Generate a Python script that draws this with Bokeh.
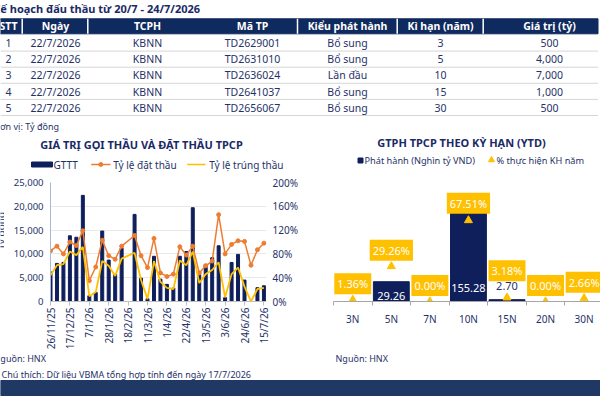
import math
from bokeh.plotting import figure
from bokeh.layouts import column, row
from bokeh.models import Range1d, LinearAxis, FixedTicker, NumeralTickFormatter
from bokeh.core.properties import value
from bokeh.embed import file_html
from bokeh.resources import INLINE

FONT = "Noto Sans"
NAVY = "#1B2A66"
TXT = "#1F3268"
HEAD = "#0F2A5E"
BAR = "#0F1F5C"
ORANGE = "#ED7D31"
YELLOW = "#FFC000"
BAND = "#1F3864"

# ---------------- table data ----------------
table_title = "Kế hoạch đấu thầu từ 20/7 - 24/7/2026"
headers = ["STT", "Ngày", "TCPH", "Mã TP", "Kiểu phát hành", "Kì hạn (năm)", "Giá trị (tỷ)"]
stt = ["1", "2", "3", "4", "5"]
ngay = ["22/7/2026", "22/7/2026", "22/7/2026", "22/7/2026", "22/7/2026"]
tcph = ["KBNN", "KBNN", "KBNN", "KBNN", "KBNN"]
ma_tp = ["TD2629001", "TD2631010", "TD2636024", "TD2641037", "TD2656067"]
kieu = ["Bổ sung", "Bổ sung", "Lần đầu", "Bổ sung", "Bổ sung"]
ki_han = [3, 5, 10, 15, 30]
gia_tri = [500, 4000, 7000, 1000, 500]

# ---------------- left chart data ----------------
dates = ["26/11/25", "3/12/25", "10/12/25", "17/12/25", "24/12/25", "31/12/25",
         "7/1/26", "14/1/26", "21/1/26", "28/1/26", "4/2/26", "11/2/26",
         "18/2/26", "25/2/26", "4/3/26", "11/3/26", "18/3/26", "25/3/26",
         "1/4/26", "8/4/26", "15/4/26", "22/4/26", "29/4/26", "6/5/26",
         "13/5/26", "20/5/26", "27/5/26", "3/6/26", "10/6/26", "17/6/26",
         "24/6/26", "1/7/26", "8/7/26", "15/7/26"]
gttt = [6200, 8000, 8200, 13800, 13500, 22300, 1200, 1900, 14800, 8700, 5700, 11200,
        None, 18300, 4900, 600, 9500, 4700, 3600, 2800, 9500, 10500, 19700, 5700,
        7800, 9200, 11700, 800, 8200, 9900, 4500, 0, 2900, 3300]
ty_le_dat_thau = [85, 93, 80, 100, 94, 119, 35, 58, 103, 77, 71, 93,
                  None, 111, 77, 57, 106, 48, 42, 46, 92, 78, 93, 48,
                  60, 68, 146, 80, 96, 102, 101, 61, 87, 98]
ty_le_trung_thau = [44, 61, 63, 84, 78, 92, 9, 16, 68, 60, 43, 72,
                    None, 82, 36, 4, 68, 33, 23, 21, 69, 61, 84, 31,
                    46, 53, 66, 7, 46, 57, 25, 0, 21, 23]
left_title = "GIÁ TRỊ GỌI THẦU VÀ ĐẶT THẦU TPCP"
left_legend = ["GTTT", "Tỷ lệ đặt thầu", "Tỷ lệ trúng thầu"]
left_axis_title = "Tỷ đồng"
y_ticks = [0, 5000, 10000, 15000, 20000, 25000]
pct_ticks = [0, 40, 80, 120, 160, 200]

# ---------------- right chart data ----------------
ky_han_cat = ["3N", "5N", "7N", "10N", "15N", "20N", "30N"]
phat_hanh = [0, 29.26, 0, 155.28, 2.70, 0, 0]
pct_kh = [1.36, 29.26, 0.00, 67.51, 3.18, 0.00, 2.66]
right_title = "GTPH TPCP THEO KỲ HẠN (YTD)"
right_legend = ["Phát hành (Nghìn tỷ VND)", "% thực hiện KH năm"]

notes_src = "Nguồn: HNX"
note_unit = "Đơn vị: Tỷ đồng"
note_text = "Chú thích: Dữ liệu VBMA tổng hợp tính đến ngày 17/7/2026"


def canvas(w, h, flip=True):
    p = figure(width=w, height=h, x_range=Range1d(0, w),
               y_range=Range1d(h, 0) if flip else Range1d(0, h),
               output_backend="svg", toolbar_location=None, min_border=0,
               x_axis_type=None, y_axis_type=None)
    p.outline_line_color = None
    return p


def txt(p, x, y, t, size, color, align="left", bold=False, angle=0.0):
    p.text(x=[x], y=[y], text=[t], text_font=value(FONT), text_font_size=f"{size}px",
           text_color=color, text_align=align, text_baseline="middle",
           text_font_style="bold" if bold else "normal", angle=angle)


# ================= top canvas (table, titles, legends) =================
pt = canvas(600, 172)
txt(pt, -7.5, 7.5, table_title, 11, NAVY, bold=True)
pt.quad(left=[-2], right=[597.5], top=[18.3], bottom=[33.3], color=HEAD)
for sx in [21.7, 87.3, 297, 396.7, 482.7]:
    pt.segment(x0=[sx], y0=[18.3], x1=[sx], y1=[33.3], line_color="white", line_width=1.5)
col_x = [8, 55, 147, 252, 347, 440, 549]
for cx, h in zip(col_x, headers):
    txt(pt, cx, 25.8, h, 10.5, "white", align="center", bold=True)
cols = [stt, ngay, tcph, ma_tp, kieu, [str(v) for v in ki_han], [f"{v:,}" for v in gia_tri]]
for i in range(len(stt)):
    ry = 42.3 + i * 16.25
    for cx, c in zip(col_x, cols):
        txt(pt, cx, ry, c[i], 10.5, TXT, align="center")
    ly = 50.6 + i * 16.1
    pt.segment(x0=[0], y0=[ly], x1=[597.5], y1=[ly], line_color="#D6D6D6", line_width=1)
txt(pt, -7, 126, note_unit, 9, TXT)

# chart titles
txt(pt, 141, 144.3, left_title, 11, NAVY, align="center", bold=True)
txt(pt, 461, 142, right_title, 11, NAVY, align="center", bold=True)
# left legend
pt.quad(left=[31], right=[52], top=[161.5], bottom=[166.5], color=BAR)
txt(pt, 53, 164, left_legend[0], 10, TXT)
pt.segment(x0=[90.7], y0=[164], x1=[110], y1=[164], line_color=ORANGE, line_width=1.5)
pt.scatter(x=[100.3], y=[164], marker="circle", size=4, color=ORANGE)
txt(pt, 112.7, 164, left_legend[1], 10, TXT)
pt.segment(x0=[186.7], y0=[164], x1=[205], y1=[164], line_color=YELLOW, line_width=1.5)
txt(pt, 208.7, 164, left_legend[2], 10, TXT)
# right legend
pt.scatter(x=[360], y=[160], marker="square", size=5, color=BAR)
txt(pt, 364, 160, right_legend[0], 9.2, TXT)
pt.scatter(x=[491], y=[159.5], marker="triangle", size=6, color=YELLOW)
txt(pt, 496, 160, right_legend[1], 9.2, TXT)

# ================= narrow strip for the left axis title =================
pn = canvas(4, 180, flip=False)
txt(pn, 0.5, 107, left_axis_title, 10, TXT, align="center", angle=math.pi / 2)

# ================= left chart =================
pl = figure(width=296, height=180, x_range=Range1d(0, 33.4), y_range=Range1d(0, 25000),
            output_backend="svg", toolbar_location=None,
            min_border_left=46, min_border_right=31, min_border_top=10, min_border_bottom=50)
pl.outline_line_color = None
pl.xgrid.visible = False
pl.ygrid.grid_line_color = "#E8E8E8"

bx = [i for i, v in enumerate(gttt) if v is not None]
pl.vbar(x=bx, top=[gttt[i] for i in bx], width=0.46, color=BAR)

pl.extra_y_ranges = {"pct": Range1d(0, 200)}
dx = [i for i, v in enumerate(ty_le_dat_thau) if v is not None]
pl.line(x=dx, y=[ty_le_dat_thau[i] for i in dx], y_range_name="pct", line_color=ORANGE, line_width=1.5)
pl.scatter(x=dx, y=[ty_le_dat_thau[i] for i in dx], y_range_name="pct", marker="circle", size=4, color=ORANGE)
tx = [i for i, v in enumerate(ty_le_trung_thau) if v is not None]
pl.line(x=tx, y=[ty_le_trung_thau[i] for i in tx], y_range_name="pct", line_color=YELLOW, line_width=1.8)

ax_r = LinearAxis(y_range_name="pct", ticker=FixedTicker(ticks=pct_ticks),
                  major_label_overrides={t: f"{t}%" for t in pct_ticks})
pl.add_layout(ax_r, "right")

for ax in [pl.yaxis[0], ax_r]:
    ax.major_tick_line_color = None
    ax.minor_tick_line_color = None
    ax.major_tick_out = 0
    ax.minor_tick_out = 0
    ax.major_label_text_font = FONT
    ax.major_label_text_font_size = "9.5px"
    ax.major_label_text_color = TXT
pl.yaxis[0].ticker = FixedTicker(ticks=y_ticks)
pl.yaxis[0].formatter = NumeralTickFormatter(format="0,0")
pl.yaxis[0].axis_line_color = "#A9B8D6"
pl.yaxis[0].major_label_standoff = 7
ax_r.axis_line_color = None
ax_r.major_label_standoff = 6
ax_r.major_label_text_font_size = "10px"

xa = pl.xaxis[0]
xt = list(range(0, len(dates), 3))
xa.ticker = FixedTicker(ticks=xt)
xa.major_label_overrides = {i: dates[i] for i in xt}
xa.major_label_orientation = math.pi / 2
xa.axis_line_color = "#BFBFBF"
xa.major_tick_line_color = "#BFBFBF"
xa.major_tick_out = 4
xa.major_tick_in = 0
xa.minor_tick_line_color = None
xa.major_label_standoff = 2
xa.major_label_text_font = FONT
xa.major_label_text_font_size = "10px"
xa.major_label_text_color = TXT

# ================= right chart =================
pr = figure(width=300, height=180, x_range=Range1d(-0.5, 6.425), y_range=Range1d(0, 176),
            output_backend="svg", toolbar_location=None, y_axis_location=None,
            min_border_left=33, min_border_right=0, min_border_top=6, min_border_bottom=22)
pr.outline_line_color = None
pr.grid.visible = False
pr.extra_y_ranges = {"pct": Range1d(0, 99)}
xs = list(range(len(ky_han_cat)))
pr.vbar(x=xs, top=phat_hanh, width=0.93, color=BAR)
pr.scatter(x=xs, y=pct_kh, y_range_name="pct", marker="triangle", size=8, color=YELLOW)
pct_offsets = [-16, -16, -16, -17, -27, -16, -16]
pr.text(x=xs, y=pct_kh, text=[f"{v:.2f}%" for v in pct_kh], y_range_name="pct",
        y_offset=pct_offsets, text_align="center", text_baseline="middle",
        text_font=value(FONT), text_font_size="11px", text_color="white",
        background_fill_color=YELLOW, padding=3)
lab_idx = [i for i, v in enumerate(phat_hanh) if v > 0]
bar_offsets = {1: 14, 3: 91, 4: -14}
bar_colors = {1: "white", 3: "white", 4: TXT}
pr.text(x=lab_idx, y=[phat_hanh[i] for i in lab_idx], text=[f"{phat_hanh[i]:.2f}" for i in lab_idx],
        y_offset=[bar_offsets[i] for i in lab_idx], text_color=[bar_colors[i] for i in lab_idx],
        text_align="center", text_baseline="middle", text_font=value(FONT), text_font_size="11px")
xr = pr.xaxis[0]
xr.ticker = FixedTicker(ticks=xs, minor_ticks=[i - 0.5 for i in range(len(xs) + 1)])
xr.major_label_overrides = {i: ky_han_cat[i] for i in xs}
xr.axis_line_color = "#A6A6A6"
xr.major_tick_line_color = None
xr.major_tick_out = 0
xr.minor_tick_line_color = "#A6A6A6"
xr.minor_tick_out = 4
xr.minor_tick_in = 0
xr.major_label_standoff = 6
xr.major_label_text_font = FONT
xr.major_label_text_font_size = "10px"
xr.major_label_text_color = TXT

# ================= bottom canvas =================
pb = canvas(600, 48)
txt(pb, -7, 6, notes_src, 9, TXT)
txt(pb, 335, 6, notes_src, 9, TXT)
txt(pb, 1, 22, note_text, 9, TXT)
pb.quad(left=[0], right=[600], top=[28], bottom=[43], color=BAND)

layout = column(pt, row(pn, pl, pr), pb)
open("out.html", "w").write(file_html(layout, INLINE))
